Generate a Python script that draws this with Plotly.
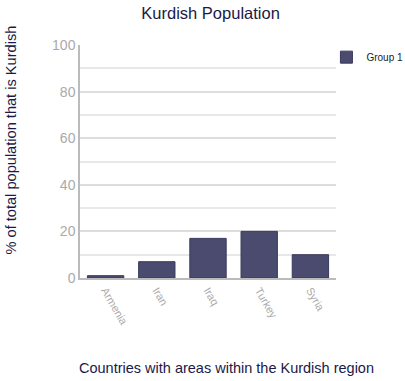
import plotly.graph_objects as go

countries = ["Armenia", "Iran", "Iraq", "Turkey", "Syria"]
kurdish_pct = [1, 7, 17, 20, 10]
y_ticks = [0, 20, 40, 60, 80, 100]

fig = go.Figure()
fig.add_trace(go.Bar(
    x=countries, y=kurdish_pct, name="Group 1",
    marker=dict(color="#4b4b70", line=dict(color="#3a3a5c", width=1)),
))

navy = "#1a1a48"
fig.update_layout(
    width=405, height=381,
    margin=dict(l=80, r=69, t=45, b=103, autoexpand=False),
    paper_bgcolor="white", plot_bgcolor="white",
    font=dict(family="Liberation Sans, Arial, sans-serif"),
    title=dict(text="Kurdish Population", x=0.52, xanchor="center", y=0.965, yanchor="middle",
               font=dict(size=16.5, color=navy)),
    bargap=0.29,
    showlegend=True,
    legend=dict(xref="container", yref="container", x=0.806, y=0.85, xanchor="left", yanchor="middle",
                font=dict(size=10, color="#222"), bgcolor="rgba(0,0,0,0)", itemwidth=30),
    xaxis=dict(
        range=[-0.5, 4.5], tickangle=60, showgrid=False,
        showline=True, linecolor="#bbbbbb", linewidth=1.5,
        tickfont=dict(size=11, color="#aaaaaa"), ticks="",
    ),
    yaxis=dict(
        range=[0, 100], tickvals=y_ticks, showgrid=True, gridcolor="#dddddd", gridwidth=1.5,
        minor=dict(dtick=10, showgrid=True, gridcolor="#e8e8e8"),
        showline=True, linecolor="#bbbbbb", linewidth=1.5, zeroline=False,
        tickfont=dict(size=14, color="#aaaaaa"), ticks="",
    ),
    annotations=[
        dict(text="% of total population that is Kurdish", textangle=-90,
             xref="paper", yref="paper", x=-0.27, y=1.094, xanchor="center", yanchor="top",
             showarrow=False, font=dict(size=14.6, color=navy)),
        dict(text="Countries with areas within the Kurdish region",
             xref="paper", yref="paper", x=0.573, y=-0.386, xanchor="center", yanchor="middle",
             showarrow=False, font=dict(size=14.5, color=navy)),
    ],
)

fig.write_html("out.html", config={"displayModeBar": False},
               post_script="document.body.style.margin='0';")
